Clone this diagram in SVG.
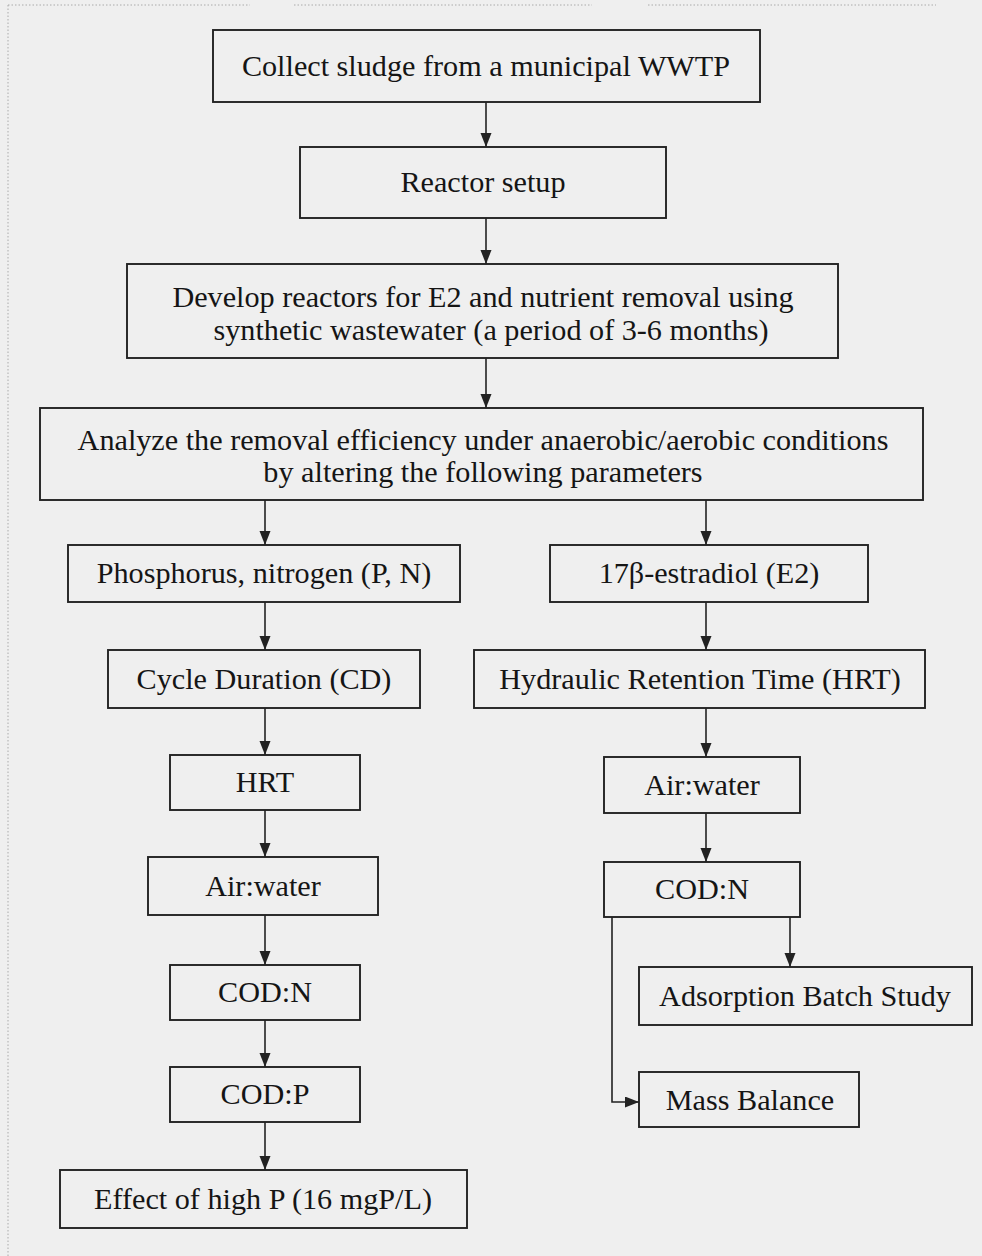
<svg xmlns="http://www.w3.org/2000/svg" width="982" height="1256" viewBox="0 0 982 1256">
<style>
.box{fill:none;stroke:#222;stroke-width:1.9}
.t{font-family:"Liberation Serif","Times New Roman",serif;font-size:30.2px;fill:#151515;text-anchor:middle}
.c{fill:none;stroke:#222;stroke-width:1.6}
.dot{fill:none;stroke:#aaa;stroke-width:1;stroke-dasharray:1.5 2}
</style>
<defs>
<marker id="ah" markerUnits="userSpaceOnUse" markerWidth="16" markerHeight="12" refX="14" refY="5.5" orient="auto">
<path d="M0,0 L14,5.5 L0,11 Z" fill="#222"/>
</marker>
</defs>
<rect width="982" height="1256" fill="#efefef"/>
<g id="frame">
<path class="dot" d="M8,5 H250 M294,5 H592 M648,5 H936 M8,5 V1256"/>
</g>
<g id="connectors">
<path class="c" d="M486,102 V147" marker-end="url(#ah)"/>
<path class="c" d="M486,218 V264" marker-end="url(#ah)"/>
<path class="c" d="M486,358 V408" marker-end="url(#ah)"/>
<path class="c" d="M265,500 V545" marker-end="url(#ah)"/>
<path class="c" d="M706,500 V545" marker-end="url(#ah)"/>
<path class="c" d="M265,602 V650" marker-end="url(#ah)"/>
<path class="c" d="M706,602 V650" marker-end="url(#ah)"/>
<path class="c" d="M265,708 V755" marker-end="url(#ah)"/>
<path class="c" d="M706,708 V757" marker-end="url(#ah)"/>
<path class="c" d="M265,810 V857" marker-end="url(#ah)"/>
<path class="c" d="M706,813 V862" marker-end="url(#ah)"/>
<path class="c" d="M265,915 V965" marker-end="url(#ah)"/>
<path class="c" d="M265,1020 V1067" marker-end="url(#ah)"/>
<path class="c" d="M265,1122 V1170" marker-end="url(#ah)"/>
<path class="c" d="M790,917 V967" marker-end="url(#ah)"/>
<path class="c" d="M612,917 V1102 H639" marker-end="url(#ah)"/>
</g>
<g id="n1"><rect class="box" x="213" y="30" width="547" height="72"/><text class="t" x="486" y="76">Collect sludge from a municipal WWTP</text></g>
<g id="n2"><rect class="box" x="300" y="147" width="366" height="71"/><text class="t" x="483" y="192">Reactor setup</text></g>
<g id="n3"><rect class="box" x="127" y="264" width="711" height="94"/><text class="t" x="483" y="307">Develop reactors for E2 and nutrient removal using</text><text class="t" x="491" y="340">synthetic wastewater (a period of 3-6 months)</text></g>
<g id="n4"><rect class="box" x="40" y="408" width="883" height="92"/><text class="t" x="483" y="450">Analyze the removal efficiency under anaerobic/aerobic conditions</text><text class="t" x="483" y="482">by altering the following parameters</text></g>
<g id="n5"><rect class="box" x="68" y="545" width="392" height="57"/><text class="t" x="264" y="583">Phosphorus, nitrogen (P, N)</text></g>
<g id="n6"><rect class="box" x="550" y="545" width="318" height="57"/><text class="t" x="709" y="583">17β-estradiol (E2)</text></g>
<g id="n7"><rect class="box" x="108" y="650" width="312" height="58"/><text class="t" x="264" y="689">Cycle Duration (CD)</text></g>
<g id="n8"><rect class="box" x="474" y="650" width="451" height="58"/><text class="t" x="700" y="689">Hydraulic Retention Time (HRT)</text></g>
<g id="n9"><rect class="box" x="170" y="755" width="190" height="55"/><text class="t" x="265" y="792">HRT</text></g>
<g id="n10"><rect class="box" x="604" y="757" width="196" height="56"/><text class="t" x="702" y="795">Air:water</text></g>
<g id="n11"><rect class="box" x="148" y="857" width="230" height="58"/><text class="t" x="263" y="896">Air:water</text></g>
<g id="n12"><rect class="box" x="604" y="862" width="196" height="55"/><text class="t" x="702" y="899">COD:N</text></g>
<g id="n13"><rect class="box" x="170" y="965" width="190" height="55"/><text class="t" x="265" y="1002">COD:N</text></g>
<g id="n14"><rect class="box" x="639" y="967" width="333" height="58"/><text class="t" x="805" y="1006">Adsorption Batch Study</text></g>
<g id="n15"><rect class="box" x="170" y="1067" width="190" height="55"/><text class="t" x="265" y="1104">COD:P</text></g>
<g id="n16"><rect class="box" x="639" y="1072" width="220" height="55"/><text class="t" x="750" y="1110">Mass Balance</text></g>
<g id="n17"><rect class="box" x="60" y="1170" width="407" height="58"/><text class="t" x="263" y="1209">Effect of high P (16 mgP/L)</text></g>
</svg>
